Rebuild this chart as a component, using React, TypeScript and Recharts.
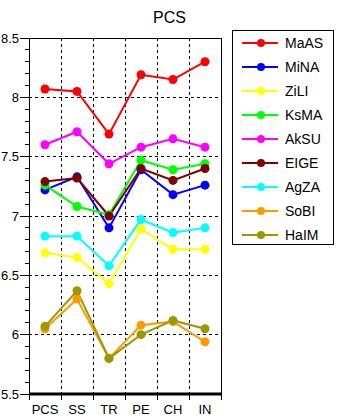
import React from 'react';
import { LineChart, Line, XAxis, YAxis, CartesianGrid, ReferenceLine } from 'recharts';

const categories = ['PCS', 'SS', 'TR', 'PE', 'CH', 'IN'];
const seriesNames = ['MaAS', 'MiNA', 'ZiLI', 'KsMA', 'AkSU', 'EIGE', 'AgZA', 'SoBI', 'HaIM'];
const seriesColors = ['#ff0000', '#0000ff', '#ffff00', '#00ff00', '#ff00ff', '#800000', '#00ffff', '#ff9900', '#999900'];

const MaAS = [8.07, 8.05, 7.69, 8.19, 8.15, 8.3];
const MiNA = [7.22, 7.33, 6.9, 7.39, 7.18, 7.26];
const ZiLI = [6.69, 6.65, 6.43, 6.89, 6.72, 6.72];
const KsMA = [7.26, 7.08, 7.01, 7.47, 7.39, 7.44];
const AkSU = [7.6, 7.71, 7.44, 7.58, 7.65, 7.58];
const EIGE = [7.29, 7.32, 7.0, 7.4, 7.3, 7.4];
const AgZA = [6.83, 6.83, 6.58, 6.97, 6.86, 6.9];
const SoBI = [6.05, 6.3, 5.8, 6.08, 6.11, 5.94];
const HaIM = [6.07, 6.37, 5.8, 6.0, 6.12, 6.05];

const seriesValues = [MaAS, MiNA, ZiLI, KsMA, AkSU, EIGE, AgZA, SoBI, HaIM];

const yMajorTicks = [5.5, 6, 6.5, 7, 7.5, 8, 8.5];
const yGridValues = [6, 6.5, 7, 7.5, 8];
const yMinorTicks = Array.from({ length: 31 }, (_, i) => Math.round((5.5 + i * 0.1) * 10) / 10);
const xTicks = categories.map((_, i) => i);
const xBoundaries = [0.5, 1.5, 2.5, 3.5, 4.5];

const data = categories.map((c, i) => {
  const row: any = { idx: i, name: c };
  seriesNames.forEach((s, k) => {
    row[s] = seriesValues[k][i];
  });
  return row;
});

const W = 337;
const H = 419;
const PLOT_LEFT = 29;
const PLOT_RIGHT = 221;
const PLOT_TOP = 38;
const PLOT_BOTTOM = 394;
const BAND = (PLOT_RIGHT - PLOT_LEFT) / categories.length;
const FONT = '"Liberation Sans", Arial, sans-serif';

const YTick = (props: any) => {
  const { y, payload } = props;
  const v = payload.value;
  const isMajor = yMajorTicks.some((m) => Math.abs(m - v) < 1e-6);
  return (
    <g>
      <line
        x1={PLOT_LEFT - (isMajor ? 9 : 4)}
        x2={PLOT_LEFT}
        y1={y}
        y2={y}
        stroke="#000"
        strokeWidth={1}
        shapeRendering="crispEdges"
      />
      {isMajor && (
        <text x={PLOT_LEFT - 10} y={y} dy={4.5} textAnchor="end" fontSize={13} fontFamily={FONT} fill="#000">
          {String(v)}
        </text>
      )}
    </g>
  );
};

const XTick = (props: any) => {
  const { x, payload } = props;
  const isLast = payload.value === categories.length - 1;
  return (
    <g>
      <line
        x1={x - BAND / 2}
        x2={x - BAND / 2}
        y1={PLOT_BOTTOM}
        y2={PLOT_BOTTOM + 6}
        stroke="#000"
        strokeWidth={1}
        shapeRendering="crispEdges"
      />
      {isLast && (
        <line
          x1={x + BAND / 2}
          x2={x + BAND / 2}
          y1={PLOT_BOTTOM}
          y2={PLOT_BOTTOM + 6}
          stroke="#000"
          strokeWidth={1}
          shapeRendering="crispEdges"
        />
      )}
      <text x={x} y={PLOT_BOTTOM + 20} textAnchor="middle" fontSize={13} fontFamily={FONT} fill="#000">
        {categories[payload.value]}
      </text>
    </g>
  );
};

export default function App() {
  return (
    <div style={{ position: 'absolute', left: 0, top: 0, width: W, height: H, background: '#fff', fontFamily: FONT }}>
      <div
        style={{
          position: 'absolute',
          left: 0,
          width: W + 2,
          top: 9,
          textAlign: 'center',
          fontSize: 16,
          lineHeight: 'normal',
          color: '#000',
        }}
      >
        PCS
      </div>
      <LineChart
        width={W}
        height={H}
        data={data}
        margin={{ top: PLOT_TOP, right: W - PLOT_RIGHT, bottom: 0, left: 0 }}
      >
        <CartesianGrid
          stroke="#000"
          strokeDasharray="3 3"
          horizontalValues={yGridValues}
          verticalValues={xBoundaries}
          fill="none"
          shapeRendering="crispEdges"
        />
        <XAxis
          dataKey="idx"
          type="number"
          domain={[-0.5, 5.5]}
          ticks={xTicks}
          interval={0}
          height={H - PLOT_BOTTOM}
          tickLine={false}
          axisLine={{ stroke: '#000', strokeWidth: 3 }}
          tick={<XTick />}
          allowDataOverflow
        />
        <YAxis
          type="number"
          domain={[5.5, 8.5]}
          ticks={yMinorTicks}
          interval={0}
          width={PLOT_LEFT}
          tickLine={false}
          axisLine={{ stroke: '#000', strokeWidth: 1, shapeRendering: 'crispEdges' }}
          tick={<YTick />}
          allowDataOverflow
        />
        <ReferenceLine y={8.5} stroke="#000" strokeWidth={1} shapeRendering="crispEdges" />
        <ReferenceLine x={5.5} stroke="#000" strokeWidth={1} shapeRendering="crispEdges" />
        {seriesNames.map((s, k) => (
          <Line
            key={s}
            dataKey={s}
            type="linear"
            stroke={seriesColors[k]}
            strokeWidth={2}
            dot={{ r: 4.5, fill: seriesColors[k], stroke: seriesColors[k], strokeWidth: 0 }}
            activeDot={false}
            isAnimationActive={false}
          />
        ))}
      </LineChart>
      <div
        style={{
          position: 'absolute',
          left: 232,
          top: 30,
          width: 100,
          height: 213,
          border: '1px solid #000',
          background: '#fff',
        }}
      >
        {seriesNames.map((s, k) => (
          <div
            key={s}
            style={{ position: 'absolute', left: 0, top: 4 + k * 24, height: 16, width: 100 }}
          >
            <svg width={40} height={16} style={{ position: 'absolute', left: 9, top: 0 }}>
              <line x1={0} x2={36} y1={8} y2={8} stroke={seriesColors[k]} strokeWidth={2} />
              <circle cx={19} cy={8} r={4} fill={seriesColors[k]} />
            </svg>
            <span
              style={{
                position: 'absolute',
                left: 52,
                top: 0,
                fontSize: 14,
                lineHeight: '16px',
                color: '#000',
              }}
            >
              {s}
            </span>
          </div>
        ))}
      </div>
    </div>
  );
}
